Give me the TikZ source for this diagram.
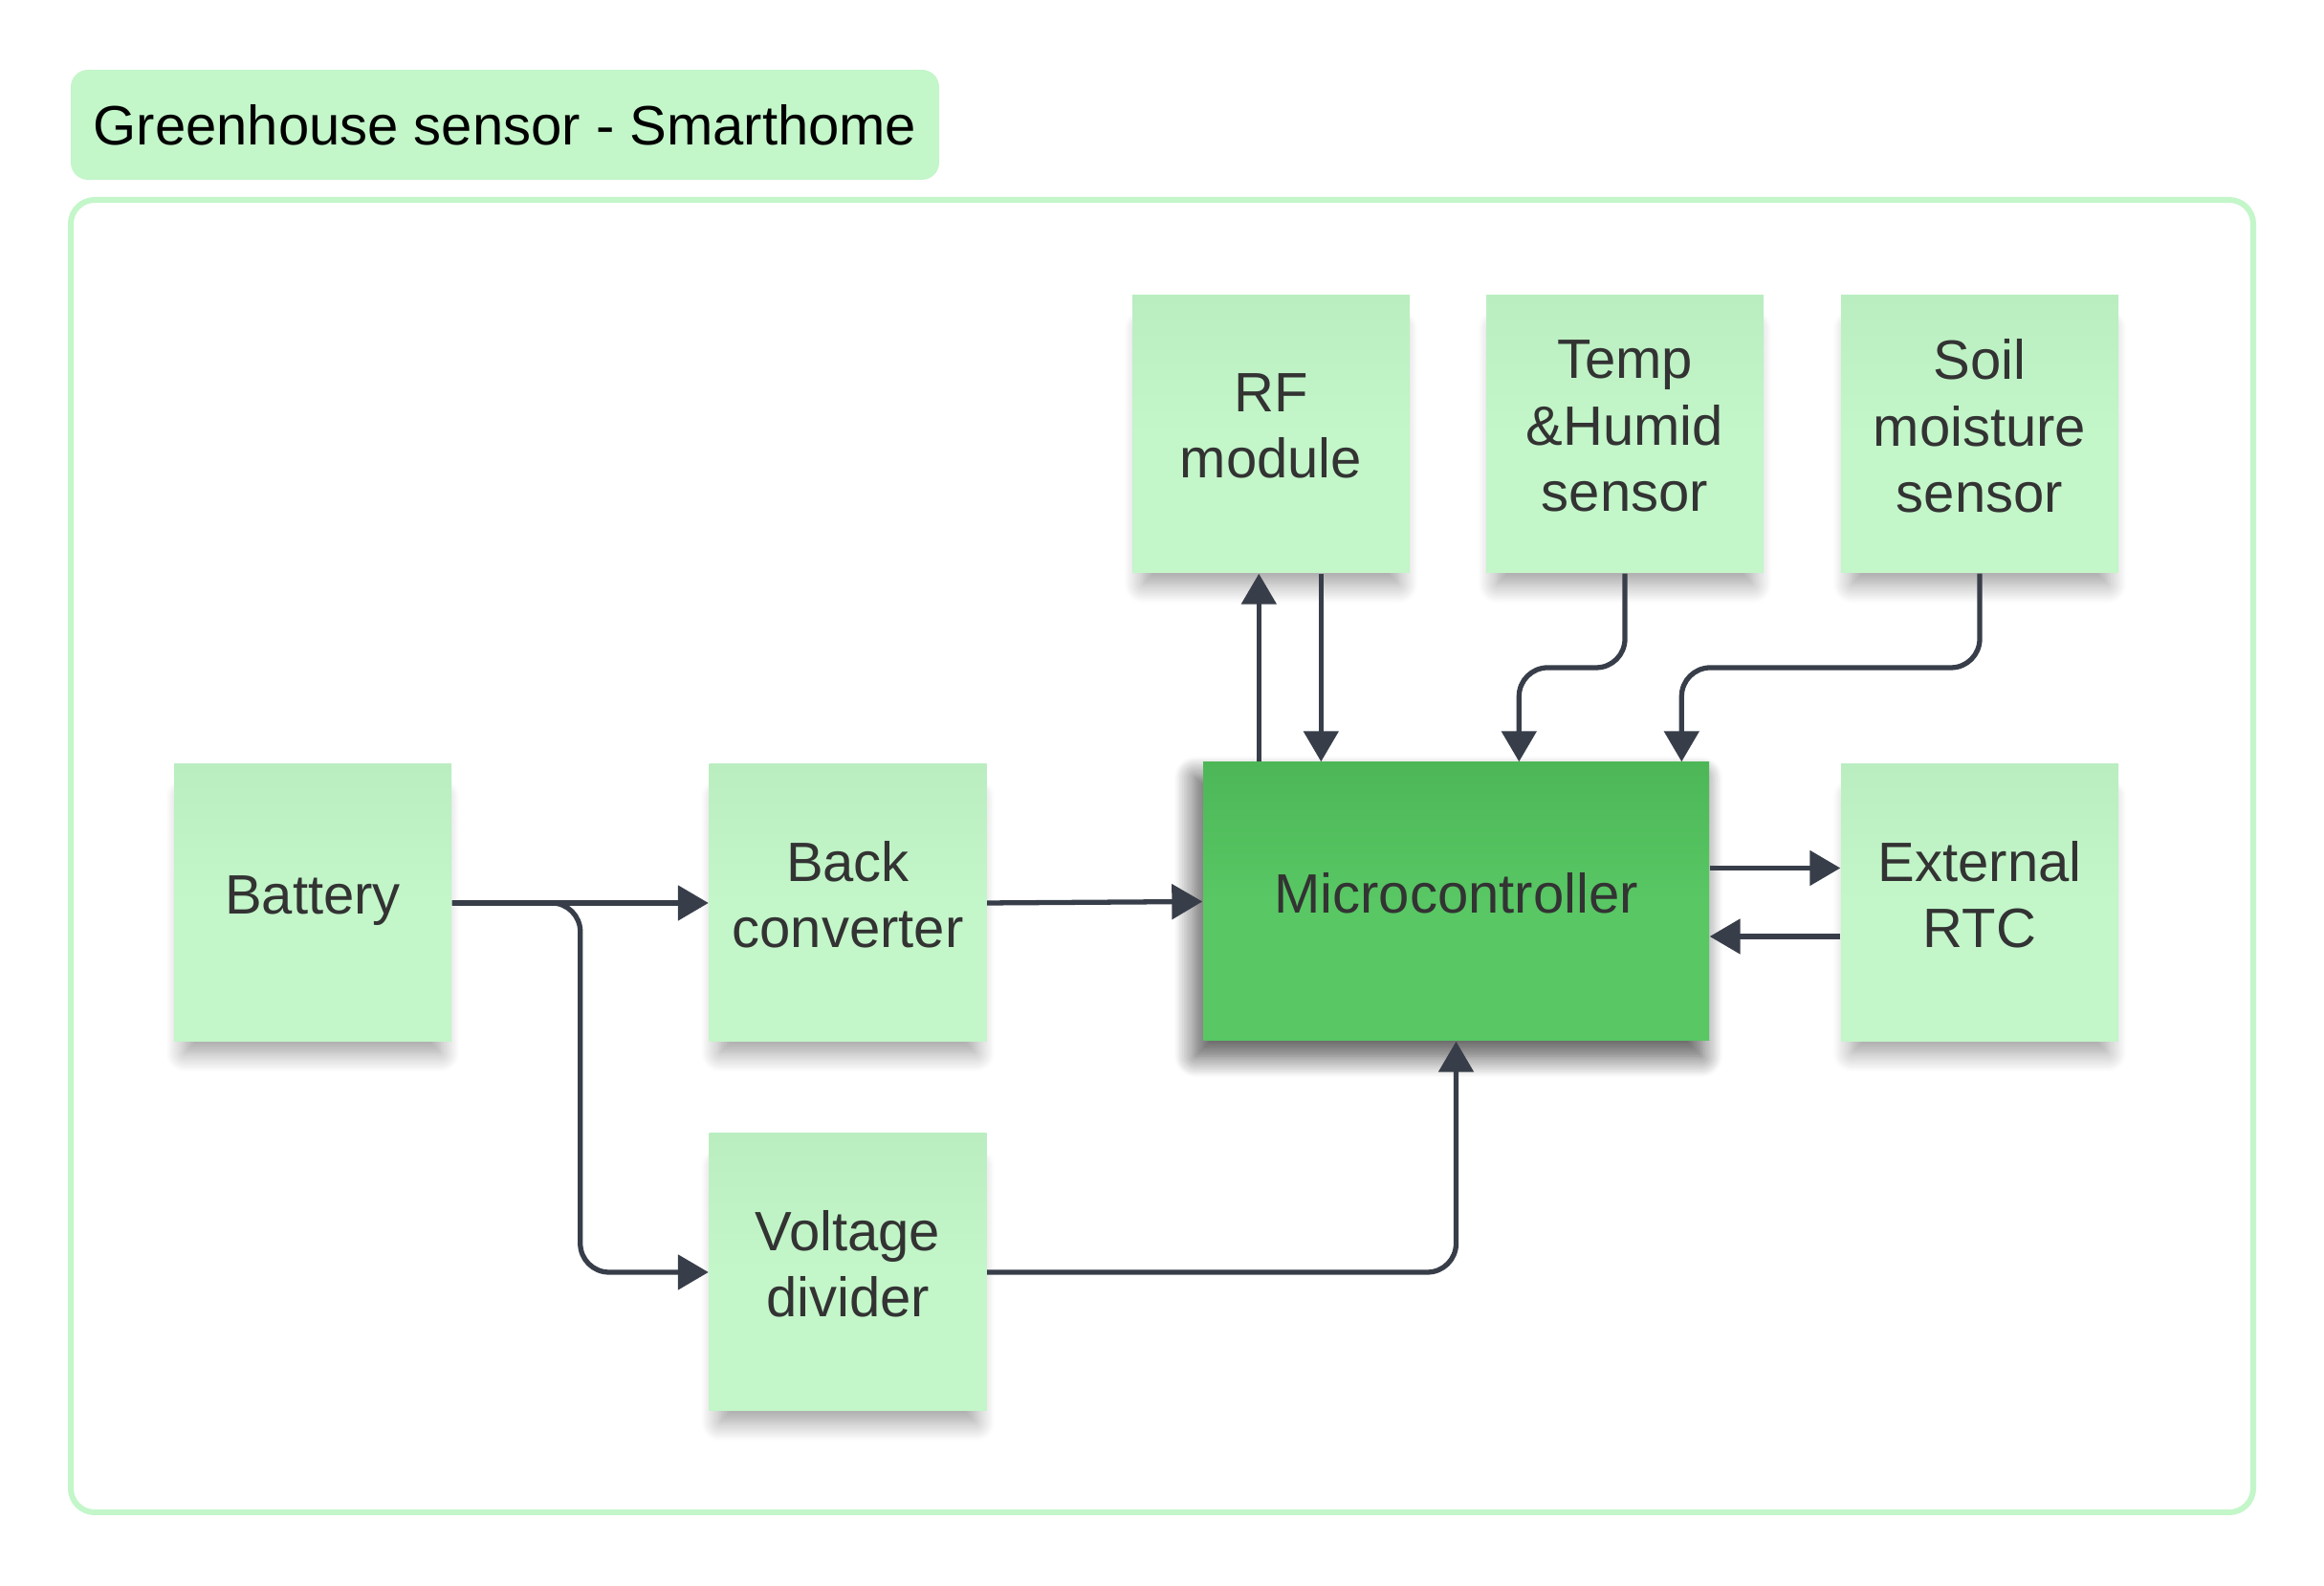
\documentclass[tikz,border=0pt]{standalone}
\usepackage{fontspec}
\setmainfont{Liberation Sans}
\usetikzlibrary{arrows.meta,calc,shadows.blur}

\definecolor{notegreen}{HTML}{C3F6C9}
\definecolor{notetop}{HTML}{BAEEC1}
\definecolor{mcugreen}{HTML}{58C764}
\definecolor{mcutop}{HTML}{4DB757}
\definecolor{wirecol}{HTML}{383E49}
\definecolor{textcol}{HTML}{333333}

\tikzset{
    note/.style={minimum width=2.9cm, minimum height=2.9cm, inner sep=0pt,
        top color=notetop, bottom color=notegreen, middle color=notegreen,
        text=textcol, align=center, text depth=5pt,
        font=\fontsize{16.5}{19.8}\selectfont,
        blur shadow={shadow xshift=0cm, shadow yshift=-0.25cm, shadow scale=0.92,
            shadow blur radius=0.22cm, shadow blur steps=14, shadow opacity=40}},
    mcu/.style={note, minimum width=5.29cm, minimum height=2.91cm,
        top color=mcutop, bottom color=mcugreen, middle color=mcugreen,
        blur shadow={shadow xshift=-0.08cm, shadow yshift=-0.16cm, shadow scale=1,
            shadow blur radius=0.22cm, shadow blur steps=14, shadow opacity=40}},
    wire/.style={draw=wirecol, line width=1.5pt,
        -{Triangle[length=0.32cm, width=0.36cm]}},
}

\begin{document}
\begin{tikzpicture}
    \useasboundingbox (0,0) rectangle (24.3,16.58);

    \node[fill=notegreen, rounded corners=0.18cm, minimum width=9.08cm,
        minimum height=1.15cm, font=\fontsize{16.5}{19.8}\selectfont]
        (title) at (5.28,15.275) {Greenhouse sensor - Smarthome};
    \draw[notegreen, line width=0.06cm, rounded corners=0.25cm]
        (0.74,0.77) rectangle (23.56,14.49);

    \node[note] (rf) at (13.29,12.04) {RF\\module};
    \node[note] (temp) at (16.99,12.04) {Temp\\\&Humid\\sensor};
    \node[note] (soil) at (20.70,12.04) {Soil\\moisture\\sensor};

    \node[note] (bat) at (3.27,7.14) {Battery};
    \node[note] (back) at (8.865,7.14) {Back\\converter};
    \node[mcu] (micro) at (15.225,7.155) {Microcontroller};
    \node[note] (rtc) at (20.70,7.14) {External\\RTC};
    \node[note] (volt) at (8.865,3.28) {Voltage\\divider};

    \coordinate (split) at ($(bat.east)!.5!(back.west)$);
    \coordinate (bend) at ($(rf.south)!.5!(micro.north)$);
    \coordinate (mc1) at ([xshift=0.59cm]micro.north west);
    \coordinate (mc2) at ([xshift=1.24cm]micro.north west);
    \coordinate (mc3) at ([xshift=3.31cm]micro.north west);
    \coordinate (mc4) at ([xshift=5.01cm]micro.north west);

    \draw[wire] (bat.east) -- (back.west);
    \draw[wire, rounded corners=0.3cm] (bat.east) -| (split |- volt.west) -- (volt.west);
    \draw[wire] (back.east) -- (micro.west);
    \draw[wire, rounded corners=0.3cm] (volt.east) -| (micro.south);

    \draw[wire] (mc1) -- (mc1 |- rf.south);
    \draw[wire] (mc2 |- rf.south) -- (mc2);
    \draw[wire, rounded corners=0.3cm] (temp.south) -- (temp.south |- bend)
        -- (mc3 |- bend) -- (mc3);
    \draw[wire, rounded corners=0.3cm] (soil.south) -- (soil.south |- bend)
        -- (mc4 |- bend) -- (mc4);

    \draw[wire] ([yshift=0.35cm]micro.east) -- ([yshift=0.35cm]micro.east -| rtc.west);
    \draw[wire] ([yshift=-0.35cm]rtc.west) -- ([yshift=-0.35cm]rtc.west -| micro.east);
\end{tikzpicture}
\end{document}
